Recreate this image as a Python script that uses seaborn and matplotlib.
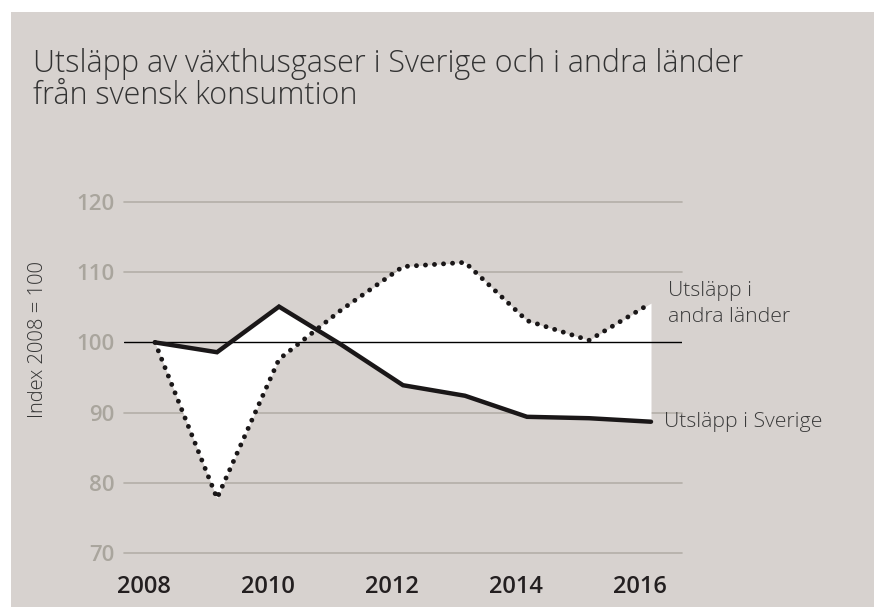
import matplotlib
matplotlib.use("Agg")
import matplotlib.pyplot as plt
import matplotlib.transforms as mtransforms
from matplotlib.patches import Rectangle
import seaborn as sns
import pandas as pd

years = [2008, 2009, 2010, 2011, 2012, 2013, 2014, 2015, 2016]
sverige = [100, 98.6, 105.1, 99.7, 93.9, 92.4, 89.4, 89.2, 88.7]
andra = [100, 77.8, 97.6, 104.6, 110.8, 111.4, 103.1, 100.3, 105.6]
yticks = [70, 80, 90, 100, 110, 120]
xticks = [2008, 2010, 2012, 2014, 2016]
title = "Utsläpp av växthusgaser i Sverige och i andra länder\nfrån svensk konsumtion"
ylabel = "Index 2008 = 100"
label_andra = "Utsläpp i\nandra länder"
label_sverige = "Utsläpp i Sverige"

df = pd.DataFrame({"year": years, "Sverige": sverige, "Andra": andra})

sns.set_theme(style="white")
plt.rcParams['font.family'] = ['Open Sans', 'DejaVu Sans']

BG = "#d7d2cf"
W, H = 874, 607
fig = plt.figure(figsize=(W / 100, H / 100), dpi=100, facecolor="white")
fig.patches.append(Rectangle((11 / W, 0), 1 - 11 / W, 1 - 12 / H,
                             transform=fig.transFigure, facecolor=BG,
                             edgecolor="none", zorder=-10))

ax = fig.add_axes([124 / W, (H - 553) / H, (682 - 124) / W, (553 - 202) / H])
ax.set_facecolor("none")

ax.fill_between(df["year"], df["Sverige"], df["Andra"], color="white", zorder=1, lw=0)
for v in yticks:
    if v != 100:
        ax.axhline(v, color="#b3aea8", lw=1.2, zorder=0.5, clip_on=False)
ax.axhline(100, color="black", lw=1.0, zorder=2)

sns.lineplot(data=df, x="year", y="Sverige", ax=ax, color="#1a1718", lw=3.2,
             zorder=4, solid_joinstyle="miter")
sns.lineplot(data=df, x="year", y="Andra", ax=ax, color="#1a1718", lw=3.5,
             linestyle=(0, (0.01, 1.85)), dash_capstyle="round", zorder=3)

ax.set_xlim(2007.5, 2016.5)
ax.set_ylim(70, 120)
ax.set_xticks(xticks)
ax.set_xticklabels([str(x) for x in xticks])
ax.set_yticks(yticks)
ax.set_yticklabels([str(y) for y in yticks])
for s in ax.spines.values():
    s.set_visible(False)
ax.tick_params(axis="both", length=0)
ax.tick_params(axis="y", pad=7, labelsize=16, labelcolor="#a9a59d")
ax.tick_params(axis="x", pad=16, labelsize=17, labelcolor="#231f20")
for t in ax.get_xticklabels():
    t.set_fontweight("semibold")
    t.set_transform(t.get_transform() + mtransforms.ScaledTranslation(-0.11, 0, fig.dpi_scale_trans))
for t in ax.get_yticklabels():
    t.set_fontweight("semibold")

ax.set_xlabel("")
ax.set_ylabel(ylabel, fontsize=14.5, color="#333333", fontweight="light")
ax.yaxis.set_label_coords(-0.137, (553 - 340) / 351)

ax.annotate(label_andra, xy=(2016, 105.6), xytext=(12, 16), textcoords="offset points",
            fontsize=15.3, color="#3a3a3a", fontweight="light", va="top", ha="left",
            linespacing=1.4)
ax.annotate(label_sverige, xy=(2016, 88.7), xytext=(9, 0), textcoords="offset points",
            fontsize=15.3, color="#3a3a3a", fontweight="light", va="center", ha="left")

fig.text(33 / W, 1 - 48 / H, title, fontsize=22, color="#333333", fontweight="light",
         va="top", ha="left", linespacing=1.0)

fig.savefig("out.png", dpi=100, facecolor="white")
